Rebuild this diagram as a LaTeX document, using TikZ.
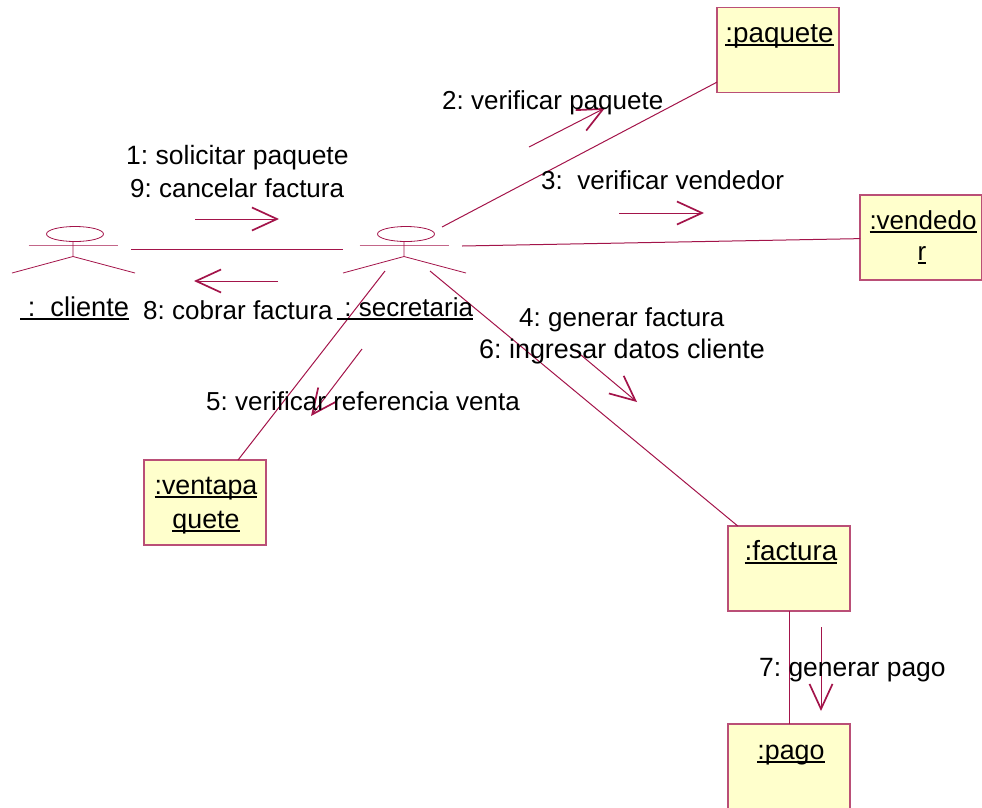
\documentclass[tikz,border=0pt]{standalone}
\usepackage{fontspec}
\setmainfont{Liberation Sans}
\usetikzlibrary{arrows.meta}
\definecolor{umlline}{HTML}{A3144A}
\definecolor{umlfill}{HTML}{FFFFCC}
\newcommand{\thickul}[1]{\setbox0=\hbox{#1}\leavevmode\rlap{\rule[-4.2pt]{\wd0}{1.9pt}}\box0}
\newcommand{\fsz}[1]{\fontsize{#1}{33}\selectfont\frenchspacing}
\tikzset{
  x=1pt,y=-1pt,
  conn/.style={draw=umlline,line width=1pt},
  msg/.style={draw=umlline,line width=1pt,-{Straight Barb[length=25pt,width=23pt,line width=1.7pt]}},
  objbox/.style={draw=umlline!75!white,fill=umlfill,line width=1.3pt,minimum width=122pt,minimum height=85pt,inner sep=0pt,outer sep=0pt},
  objtext/.style={anchor=base,align=center,inner sep=0pt,text=black},
  lbl/.style={anchor=base west,inner sep=0pt,text=black,font=\fsz{26}},
  actorline/.style={draw=umlline,line width=0.8pt},
  actorarm/.style={draw=umlline!65!white,line width=0.9pt},
  actor/.pic={
    \draw[actorline] (0,-13) ellipse [x radius=28.5,y radius=7.5];
    \draw[actorarm] (-46.5,-2) -- (42.5,-2);
    \draw[actorline] (-2,-5.5) -- (-2,9.5) (-63,26) -- (-2,9.5) -- (60,26);
  }
}
\begin{document}
\begin{tikzpicture}
\useasboundingbox (0,0) rectangle (982,807);
\begin{scope}
\clip (0,0) rectangle (982,807);
\node[objbox] (paquete) at (778,50) {};
\node[objbox] (vendedor) at (921,237.5) {};
\node[objbox] (ventapaquete) at (205,502.5) {};
\node[objbox] (factura) at (789,568.5) {};
\node[objbox] (pago) at (789,766.5) {};
\end{scope}

\pic at (75,247) {actor};
\pic at (406,247) {actor};

\coordinate (clienteEnd) at (131,249);
\coordinate (secL) at (343,249);
\coordinate (secP) at (442,227);
\coordinate (secV) at (462,246);
\coordinate (secF) at (430,271);
\coordinate (secVP) at (385,271);

\draw[conn] (clienteEnd) -- (secL);
\draw[conn] (secP) -- (paquete);
\draw[conn] (secV) -- (vendedor);
\draw[conn] (secF) -- (factura);
\draw[conn] (secVP) -- (ventapaquete);
\draw[conn] (factura) -- (pago);

\coordinate (m1a) at (195,219); \coordinate (m1b) at (279,219);
\coordinate (m8a) at (278,281); \coordinate (m8b) at (194,281);
\coordinate (m2a) at (529,147); \coordinate (m2b) at (605,108);
\coordinate (m3a) at (619,213); \coordinate (m3b) at (704,213);
\coordinate (m4a) at (575,350); \coordinate (m4b) at (637,402);
\coordinate (m5a) at (362,349); \coordinate (m5b) at (311,416);
\coordinate (m7a) at (821,627); \coordinate (m7b) at (821,711);
\draw[msg] (m1a) -- (m1b);
\draw[msg] (m8a) -- (m8b);
\draw[msg] (m2a) -- (m2b);
\draw[msg] (m3a) -- (m3b);
\draw[msg] (m4a) -- (m4b);
\draw[msg] (m5a) -- (m5b);
\draw[msg] (m7a) -- (m7b);

\node[objtext,font=\fsz{27.8}] (tp) at (779.5,42) {\thickul{:paquete}};
\node[objtext,font=\fsz{26}] (tv1) at (923,229) {\thickul{:vendedo}};
\node[objtext,font=\fsz{26}] (tv2) at (922,260) {\thickul{r}};
\node[objtext,font=\fsz{26.8}] (tvp1) at (206,494) {\thickul{:ventapa}};
\node[objtext,font=\fsz{26.8}] (tvp2) at (206,528) {\thickul{quete}};
\node[objtext,font=\fsz{27.8}] (tf) at (791,560) {\thickul{:factura}};
\node[objtext,font=\fsz{26.8}] (tpg) at (791,759) {\thickul{:pago}};

\node[lbl,font=\fsz{26.5}] (l1) at (126,164) {1: solicitar paquete};
\node[lbl] (l9) at (130,197) {9: cancelar factura};
\node[lbl] (l8) at (143,319) {8: cobrar factura};
\node[lbl] (l2) at (442,109) {2: verificar paquete};
\node[lbl] (l3) at (541,189) {3:\ \ verificar vendedor};
\node[lbl] (l4) at (519,326) {4: generar factura};
\node[lbl,font=\fsz{26.9}] (l6) at (479,358) {6: ingresar datos cliente};
\node[lbl] (l5) at (206,410) {5: verificar referencia venta};
\node[lbl,font=\fsz{26.4}] (l7) at (759,676) {7: generar pago};
\node[lbl,font=\fsz{27.2}] (acl) at (20,316) {\thickul{\ :\ \ cliente}};
\node[lbl] (asc) at (337,316) {\thickul{\ :\ secretaria}};
\end{tikzpicture}
\end{document}
